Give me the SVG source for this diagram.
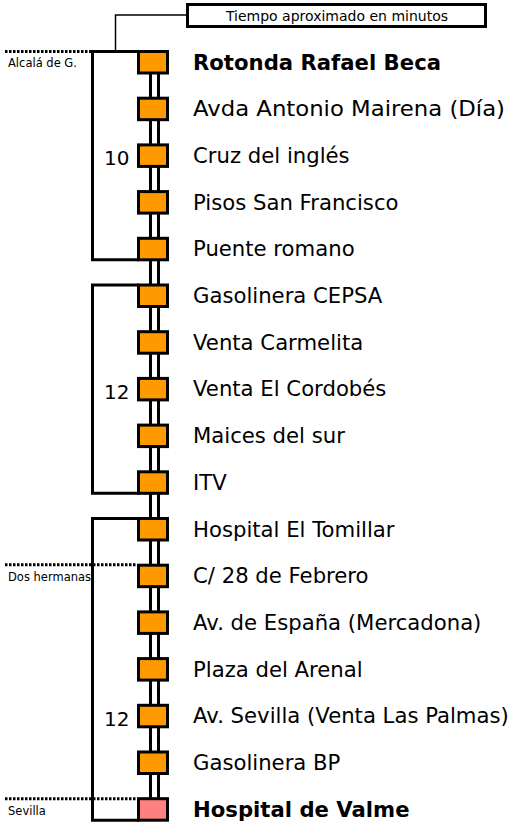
<svg xmlns="http://www.w3.org/2000/svg" width="509" height="825" viewBox="0 0 509 825">
<style>
.node{fill:#FF9900;stroke:#000;stroke-width:3}
.end{fill:#FF8080;stroke:#000;stroke-width:3}
.lbl{font-family:"DejaVu Sans",Verdana,sans-serif;font-size:21.2px;fill:#000}
.b{font-weight:bold}
.num{font-family:"DejaVu Sans",Verdana,sans-serif;font-size:20px;fill:#000}
.sm{font-family:"DejaVu Sans",Verdana,sans-serif;font-size:11.5px;fill:#000}
.rail{stroke:#000;stroke-width:3;fill:none}
.br{stroke:#000;stroke-width:3;fill:none}
.dot{stroke:#000;stroke-width:3;stroke-dasharray:2.5 1.5;fill:none}
</style>
<rect width="509" height="825" fill="#fff"/>
<g id="title">
<rect x="187.5" y="4.5" width="298" height="22" fill="#fff" stroke="#000" stroke-width="3"/>
<text x="337" y="20.5" text-anchor="middle" font-family="DejaVu Sans,Verdana,sans-serif" font-size="14">Tiempo aproximado en minutos</text>
</g>
<g id="connectors">
<path d="M186,15 H115.5 V50" stroke="#000" stroke-width="1.5" fill="none"/>
<line class="rail" x1="150.5" y1="62" x2="150.5" y2="810"/>
<line class="rail" x1="158.5" y1="62" x2="158.5" y2="810"/>
<path class="br" d="M139,51.5 H92.5 V259.8 H139"/>
<path class="br" d="M139,285 H92.5 V493.3 H139"/>
<path class="br" d="M139,518.5 H92.5 V820.2 H139"/>
<line class="dot" x1="5" y1="51.5" x2="91" y2="51.5"/>
<line class="dot" x1="5" y1="564.7" x2="137" y2="564.7"/>
<line class="dot" x1="5" y1="798.7" x2="137" y2="798.7"/>
</g>
<g id="zones">
<text class="sm" x="8" y="67">Alcalá de G.</text>
<text class="sm" x="8" y="581">Dos hermanas</text>
<text class="sm" x="8" y="815">Sevilla</text>
<text class="num" x="104" y="165">10</text>
<text class="num" x="104" y="398.5">12</text>
<text class="num" x="104" y="725.5">12</text>
</g>
<g id="n0"><rect class="node" x="138.5" y="51.5" width="29" height="21.5"/><text class="lbl b" x="193" y="69.5">Rotonda Rafael Beca</text></g>
<g id="n1"><rect class="node" x="138.5" y="98.2" width="29" height="21.5"/><text class="lbl" x="193" y="116.2" textLength="312" lengthAdjust="spacingAndGlyphs">Avda Antonio Mairena (Día)</text></g>
<g id="n2"><rect class="node" x="138.5" y="144.9" width="29" height="21.5"/><text class="lbl" x="193" y="162.9">Cruz del inglés</text></g>
<g id="n3"><rect class="node" x="138.5" y="191.6" width="29" height="21.5"/><text class="lbl" x="193" y="209.6">Pisos San Francisco</text></g>
<g id="n4"><rect class="node" x="138.5" y="238.3" width="29" height="21.5"/><text class="lbl" x="193" y="256.3">Puente romano</text></g>
<g id="n5"><rect class="node" x="138.5" y="285" width="29" height="21.5"/><text class="lbl" x="193" y="303">Gasolinera CEPSA</text></g>
<g id="n6"><rect class="node" x="138.5" y="331.7" width="29" height="21.5"/><text class="lbl" x="193" y="349.7">Venta Carmelita</text></g>
<g id="n7"><rect class="node" x="138.5" y="378.4" width="29" height="21.5"/><text class="lbl" x="193" y="396.4">Venta El Cordobés</text></g>
<g id="n8"><rect class="node" x="138.5" y="425.1" width="29" height="21.5"/><text class="lbl" x="193" y="443.1">Maices del sur</text></g>
<g id="n9"><rect class="node" x="138.5" y="471.8" width="29" height="21.5"/><text class="lbl" x="193" y="489.8">ITV</text></g>
<g id="n10"><rect class="node" x="138.5" y="518.5" width="29" height="21.5"/><text class="lbl" x="193" y="536.5">Hospital El Tomillar</text></g>
<g id="n11"><rect class="node" x="138.5" y="565.2" width="29" height="21.5"/><text class="lbl" x="193" y="583.2">C/ 28 de Febrero</text></g>
<g id="n12"><rect class="node" x="138.5" y="611.9" width="29" height="21.5"/><text class="lbl" x="193" y="629.9">Av. de España (Mercadona)</text></g>
<g id="n13"><rect class="node" x="138.5" y="658.6" width="29" height="21.5"/><text class="lbl" x="193" y="676.6">Plaza del Arenal</text></g>
<g id="n14"><rect class="node" x="138.5" y="705.3" width="29" height="21.5"/><text class="lbl" x="193" y="723.3">Av. Sevilla (Venta Las Palmas)</text></g>
<g id="n15"><rect class="node" x="138.5" y="752" width="29" height="21.5"/><text class="lbl" x="193" y="770">Gasolinera BP</text></g>
<g id="n16"><rect class="end" x="138.5" y="798.7" width="29" height="21.5"/><text class="lbl b" x="193" y="816.7">Hospital de Valme</text></g>
</svg>
